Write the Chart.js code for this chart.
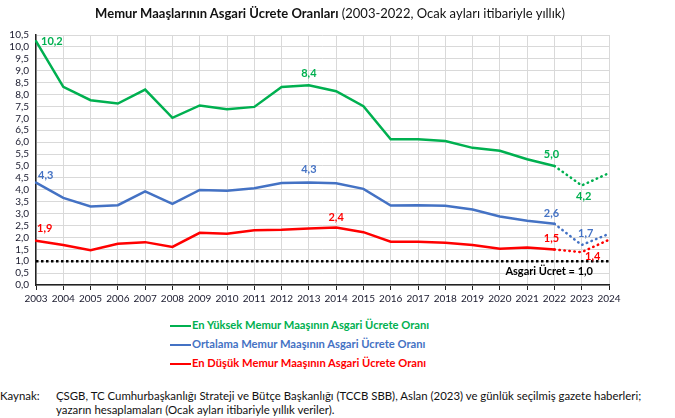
<!DOCTYPE html>
<html>
<head>
<meta charset="utf-8">
<script src="https://cdn.jsdelivr.net/npm/chart.js@4.4.1/dist/chart.umd.min.js"></script>
<style>
  body { margin: 0; background: #fff; font-family: Lato, "Noto Sans", sans-serif; }
  #wrap { position: relative; width: 675px; height: 418px; overflow: hidden; }
  #title { position: absolute; top: 5px; left: 0; width: 660px; text-align: center; font-size: 13px; color: #111; }
  #box { position: absolute; left: 0; top: 0; width: 675px; height: 305px; }
  #legend { position: absolute; left: 170px; top: 317px; font-size: 11.2px; font-weight: bold; }
  #legend div { height: 19px; line-height: 16px; white-space: nowrap; }
  #legend span.ln { display: inline-block; width: 21px; height: 2.5px; vertical-align: middle; margin-right: 1px; }
  #foot { position: absolute; left: 0; top: 389px; font-size: 11.4px; color: #111; line-height: 14px; }
  #foot td { padding: 0; vertical-align: top; }
</style>
</head>
<body>
<div id="wrap">
  <div id="box"><canvas id="myChart"></canvas></div>
  <div id="title"><b>Memur Maaşlarının Asgari Ücrete Oranları</b> (2003-2022, Ocak ayları itibariyle yıllık)</div>
  <div id="legend"></div>
  <table id="foot" cellspacing="0"><tr><td style="width:56px">Kaynak:</td><td>ÇSGB, TC Cumhurbaşkanlığı Strateji ve Bütçe Başkanlığı (TCCB SBB), Aslan (2023) ve günlük seçilmiş gazete haberleri;<br>yazarın hesaplamaları (Ocak ayları itibariyle yıllık veriler).</td></tr></table>
</div>
<script>
//*** Veriler
const yillar = ["2003","2004","2005","2006","2007","2008","2009","2010","2011","2012","2013",
  "2014","2015","2016","2017","2018","2019","2020","2021","2022","2023","2024"];
const enYuksek = [10.24, 8.32, 7.76, 7.62, 8.21, 7.02, 7.54, 7.38, 7.48, 8.32, 8.39,
  8.14, 7.51, 6.12, 6.12, 6.05, 5.76, 5.64, 5.28, 5.0, 4.18, 4.7];
const ortalama = [4.30, 3.66, 3.30, 3.35, 3.93, 3.41, 3.99, 3.96, 4.06, 4.28, 4.31,
  4.27, 4.04, 3.34, 3.35, 3.33, 3.17, 2.88, 2.70, 2.57, 1.68, 2.15];
const enDusuk = [1.86, 1.68, 1.46, 1.73, 1.80, 1.60, 2.19, 2.15, 2.30, 2.32, 2.37,
  2.41, 2.22, 1.82, 1.82, 1.77, 1.68, 1.52, 1.57, 1.49, 1.38, 1.90];
const asgari = yillar.map(() => 1.0);
const yTicks = [0, 0.5, 1, 1.5, 2, 2.5, 3, 3.5, 4, 4.5, 5, 5.5, 6, 6.5, 7, 7.5, 8, 8.5, 9, 9.5, 10, 10.5];

const seriler = [
  { ad: "En Yüksek Memur Maaşının Asgari Ücrete Oranı", veri: enYuksek, renk: "#00b050" },
  { ad: "Ortalama Memur Maaşının Asgari Ücrete Oranı", veri: ortalama, renk: "#4472c4" },
  { ad: "En Düşük Memur Maaşının Asgari Ücrete Oranı", veri: enDusuk, renk: "#ff0000" },
];

// etiketler: seri, yil indeksi, konum kaydirmasi
const etiketler = [
  [0, 0, 5, 0, "left"], [0, 10, 0, -12, "center"], [0, 19, -3, -11, "center"], [0, 20, 2, 11, "center"],
  [1, 0, 2, -7, "left"], [1, 10, 0, -13, "center"], [1, 19, -3, -10, "center"], [1, 20, 4, -12, "center"],
  [2, 0, 1, -12, "left"], [2, 11, 0, -10, "center"], [2, 19, -3, -11, "center"], [2, 20, 11, 4, "center"],
];

const fmt = (v) => v.toFixed(1).replace(".", ",");

$legend = document.getElementById("legend");
seriler.forEach((s) => {
  $legend.innerHTML += `<div style="color:${s.renk}"><span class="ln" style="background:${s.renk}"></span>${s.ad}</div>`;
});

const etiketPlugin = {
  id: "etiketler",
  afterDatasetsDraw(chart) {
    const ctx = chart.ctx;
    const x = chart.scales.x, y = chart.scales.y;
    ctx.save();
    ctx.font = "bold 11px Lato";
    ctx.textBaseline = "middle";
    etiketler.forEach(([si, i, dx, dy, al]) => {
      const v = seriler[si].veri[i];
      ctx.fillStyle = seriler[si].renk;
      ctx.textAlign = al;
      ctx.fillText(fmt(v), x.getPixelForValue(i) + dx, y.getPixelForValue(v) + dy);
    });
    ctx.fillStyle = "#000";
    ctx.textAlign = "right";
    ctx.fillText("Asgari Ücret = " + fmt(asgari[asgari.length - 1]), x.getPixelForValue(yillar.length - 1) - 16, y.getPixelForValue(1) + 10);
    ctx.restore();
  },
};

const dotted = (ctx) => (ctx.p0DataIndex >= 19 ? [0.5, 4.5] : undefined);

const datasets = seriler.map((s) => ({
  label: s.ad,
  data: s.veri,
  borderColor: s.renk,
  borderWidth: 2.5,
  pointRadius: 0,
  tension: 0,
  borderCapStyle: "round",
  segment: { borderDash: dotted },
}));
datasets.push({
  label: "Asgari Ücret",
  data: asgari,
  borderColor: "#000",
  borderWidth: 2.5,
  pointRadius: 0,
  borderDash: [2.5, 2.5],
});

const config = {
  type: "line",
  data: { labels: yillar, datasets: datasets },
  options: {
    responsive: true,
    maintainAspectRatio: false,
    animation: false,
    layout: { padding: { top: 35, right: 66, left: 0, bottom: 0 } },
    plugins: { legend: { display: false }, tooltip: { enabled: false } },
    scales: {
      x: {
        offset: false,
        grid: { color: "#d9d9d9", tickColor: "#222", tickLength: 5 },
        border: { color: "#222", width: 1.5 },
        ticks: { color: "#1a1a2e", font: { size: 10, family: "Lato" }, maxRotation: 0, autoSkip: false, padding: 3 },
        afterFit: (s) => { s.height = 20; },
      },
      y: {
        min: 0,
        max: 10.5,
        afterBuildTicks: (s) => { s.ticks = yTicks.map((v) => ({ value: v })); },
        grid: { color: "#d9d9d9", drawTicks: false },
        border: { color: "#222", width: 1.5 },
        ticks: { color: "#1a1a2e", font: { size: 10, family: "Lato" }, padding: 7, autoSkip: false, callback: (v) => fmt(v) },
        afterFit: (s) => { s.width = 36; },
      },
    },
  },
  plugins: [etiketPlugin],
};

var myChart = new Chart(document.getElementById("myChart"), config);
</script>
</body>
</html>
